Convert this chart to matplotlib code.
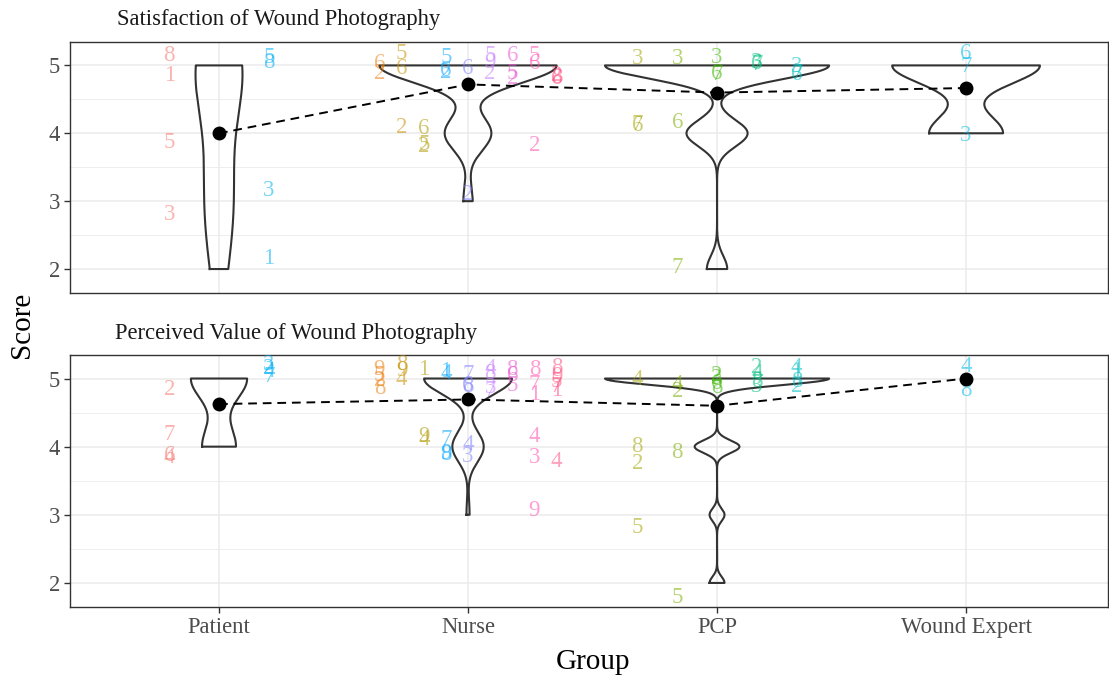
import matplotlib
matplotlib.use('Agg')
import matplotlib.pyplot as plt
import numpy as np

plt.rcParams['font.family'] = ['Liberation Serif', 'DejaVu Serif']

groups = ['Patient', 'Nurse', 'PCP', 'Wound Expert']
panel_titles = ['Satisfaction of Wound Photography', 'Perceived Value of Wound Photography']

# site colours inside each group
patient_colors = ['#F8766D', '#00B0F6']
nurse_colors = ['#EE8010', '#C89000', '#B09A00', '#00A5FF', '#7F7FFF',
                '#C77CFF', '#EA50D0', '#FF4FB0', '#FF5080']
pcp_colors = ['#A3A500', '#7CAE00', '#39B600', '#00BF7D', '#00BFC4']
expert_colors = ['#00B8E7']

# (site, respondent label, score, jittered height as drawn)
sat_patient = [(0, '8', 5, 5.15), (0, '1', 5, 4.85), (0, '5', 4, 3.87), (0, '3', 3, 2.81),
               (1, '5', 5, 5.12), (1, '8', 5, 5.04), (1, '3', 3, 3.15), (1, '1', 2, 2.15)]
sat_nurse = [(0, '6', 5, 5.03), (0, '2', 5, 4.88),
             (1, '5', 5, 5.18), (1, '6', 5, 4.96), (1, '2', 4, 4.09),
             (2, '6', 4, 4.07), (2, '5', 4, 3.83), (2, '2', 4, 3.80),
             (3, '5', 5, 5.12), (3, '2', 5, 4.90), (3, '6', 5, 4.92),
             (4, '6', 5, 4.96), (4, '2', 3, 3.10),
             (5, '5', 5, 5.15), (5, '9', 5, 5.05), (5, '2', 5, 4.88),
             (6, '6', 5, 5.15), (6, '5', 5, 4.88), (6, '2', 5, 4.80),
             (7, '5', 5, 5.15), (7, '6', 5, 5.03), (7, '2', 4, 3.82),
             (8, '2', 5, 4.85), (8, '8', 5, 4.82), (8, '6', 5, 4.80)]
sat_pcp = [(0, '3', 5, 5.10), (0, '7', 4, 4.13), (0, '6', 4, 4.11),
           (1, '3', 5, 5.10), (1, '6', 4, 4.16), (1, '7', 2, 2.03),
           (2, '3', 5, 5.12), (2, '6', 5, 4.88), (2, '7', 5, 4.86),
           (3, '3', 5, 5.05), (3, '6', 5, 5.03), (3, '7', 5, 5.01),
           (4, '3', 5, 4.98), (4, '7', 5, 4.88), (4, '6', 5, 4.86)]
sat_expert = [(0, '6', 5, 5.18), (0, '7', 5, 4.98), (0, '3', 4, 3.97)]

val_patient = [(0, '2', 5, 4.84), (0, '7', 4, 4.18), (0, '6', 4, 3.87), (0, '4', 4, 3.84),
               (1, '3', 5, 5.20), (1, '2', 5, 5.15), (1, '4', 5, 5.10), (1, '7', 5, 5.03)]
val_nurse = [(0, '9', 5, 5.13), (0, '5', 5, 5.05), (0, '2', 5, 4.97), (0, '8', 5, 4.86),
             (1, '8', 5, 5.20), (1, '9', 5, 5.12), (1, '4', 5, 4.98),
             (2, '1', 5, 5.13), (2, '9', 4, 4.15), (2, '4', 4, 4.10),
             (3, '1', 5, 5.10), (3, '4', 5, 5.08), (3, '7', 4, 4.10), (3, '8', 4, 3.88), (3, '9', 4, 3.90),
             (4, '7', 5, 5.06), (4, '6', 5, 4.90), (4, '8', 5, 4.88), (4, '4', 4, 4.03), (4, '3', 4, 3.85),
             (5, '4', 5, 5.15), (5, '8', 5, 5.08), (5, '3', 5, 4.87), (5, '7', 5, 4.83),
             (6, '8', 5, 5.13), (6, '6', 5, 5.05), (6, '5', 5, 4.90),
             (7, '8', 5, 5.13), (7, '7', 5, 4.91), (7, '1', 5, 4.76), (7, '4', 4, 4.15),
             (7, '3', 4, 3.84), (7, '9', 3, 3.07),
             (8, '8', 5, 5.16), (8, '9', 5, 5.03), (8, '5', 5, 4.95), (8, '7', 5, 4.88),
             (8, '1', 5, 4.83), (8, '4', 4, 3.78)]
val_pcp = [(0, '4', 5, 4.98), (0, '8', 4, 4.00), (0, '2', 4, 3.76), (0, '5', 3, 2.82),
           (1, '4', 5, 4.91), (1, '2', 5, 4.81), (1, '8', 4, 3.91), (1, '5', 2, 1.79),
           (2, '2', 5, 5.05), (2, '3', 5, 5.00), (2, '6', 5, 4.93), (2, '8', 5, 4.87),
           (3, '2', 5, 5.16), (3, '4', 5, 5.07), (3, '8', 5, 4.96), (3, '3', 5, 4.88),
           (4, '4', 5, 5.16), (4, '1', 5, 5.10), (4, '2', 5, 4.88), (4, '8', 5, 4.95)]
val_expert = [(0, '4', 5, 5.18), (0, '8', 5, 4.82)]

colors = [patient_colors, nurse_colors, pcp_colors, expert_colors]
panels = [[sat_patient, sat_nurse, sat_pcp, sat_expert],
          [val_patient, val_nurse, val_pcp, val_expert]]


def nrd0(x):
    # same rule as R's bw.nrd0
    x = np.asarray(x, float)
    hi = x.std(ddof=1)
    q75, q25 = np.percentile(x, [75, 25])
    lo = min(hi, (q75 - q25) / 1.34)
    if not lo:
        lo = hi or abs(x[0]) or 1.0
    return 0.9 * lo * len(x) ** -0.2


def ydensity(scores):
    s = np.asarray(scores, float)
    bw = nrd0(s)
    ys = np.linspace(s.min(), s.max(), 512)
    d = np.exp(-0.5 * ((ys[:, None] - s[None, :]) / bw) ** 2).sum(axis=1)
    d = d / (len(s) * bw * np.sqrt(2 * np.pi))
    return ys, d


W, H = 1109, 677
fig = plt.figure(figsize=(W / 100, H / 100), dpi=100)
ax_top = fig.add_axes([70 / W, 1 - 293 / H, 1038 / W, 251 / H])
ax_bot = fig.add_axes([70 / W, 1 - 607 / H, 1038 / W, 252 / H])

for ax, data, title in zip([ax_top, ax_bot], panels, panel_titles):
    dens = [ydensity([r[2] for r in g]) for g in data]
    dmax = max(d.max() for _, d in dens)
    for i, (ys, d) in enumerate(dens):
        xc = i + 1
        hw = 0.45 * d / dmax
        ax.plot(np.r_[xc - hw, (xc + hw)[::-1], xc - hw[0]],
                np.r_[ys, ys[::-1], ys[0]], color='#333333', lw=1.5, zorder=2)

    for i, g in enumerate(data):
        n_sub = len(colors[i])
        for sub, lab, score, y in g:
            x = i + 1 - 0.4 + 0.8 / n_sub * (sub + 0.5)
            ax.text(x, y, lab, color=colors[i][sub], alpha=0.55, ha='center', va='center',
                    fontsize=16.5, zorder=3)

    means = [np.mean([r[2] for r in g]) for g in data]
    xs = np.arange(1, len(groups) + 1)
    ax.plot(xs, means, color='black', ls=(0, (4.5, 3)), lw=1.4, zorder=4)
    ax.plot(xs, means, 'o', color='black', ms=9, zorder=5)

    ax.set_xlim(0.4016, 4.570)
    ax.set_ylim(1.647, 5.345)
    ax.set_xticks(xs)
    ax.set_xticklabels(groups)
    ax.set_yticks([2, 3, 4, 5])
    ax.set_yticks([2.5, 3.5, 4.5], minor=True)
    ax.grid(True, which='major', color='#EBEBEB', lw=1.1, zorder=0)
    ax.grid(True, which='minor', axis='y', color='#EBEBEB', lw=0.6, zorder=0)
    ax.set_axisbelow(True)
    for sp in ax.spines.values():
        sp.set_color('#333333')
        sp.set_linewidth(1.0)
    ax.tick_params(which='major', color='#333333', length=4, width=1.0,
                   labelsize=16.3, labelcolor='#4D4D4D', pad=3)
    ax.tick_params(which='minor', length=0)

ax_top.tick_params(axis='x', length=0, labelbottom=False)

fig.text(117 / W, 1 - 20 / H, panel_titles[0], fontsize=16.3, color='#1A1A1A', va='center', ha='left')
fig.text(115 / W, 1 - 333 / H, panel_titles[1], fontsize=16.3, color='#1A1A1A', va='center', ha='left')
fig.text(22 / W, 1 - 325 / H, 'Score', fontsize=21, rotation=90, va='center', ha='center')
fig.text(593 / W, 1 - 662 / H, 'Group', fontsize=21, va='center', ha='center')

fig.savefig('out.png', dpi=100)
